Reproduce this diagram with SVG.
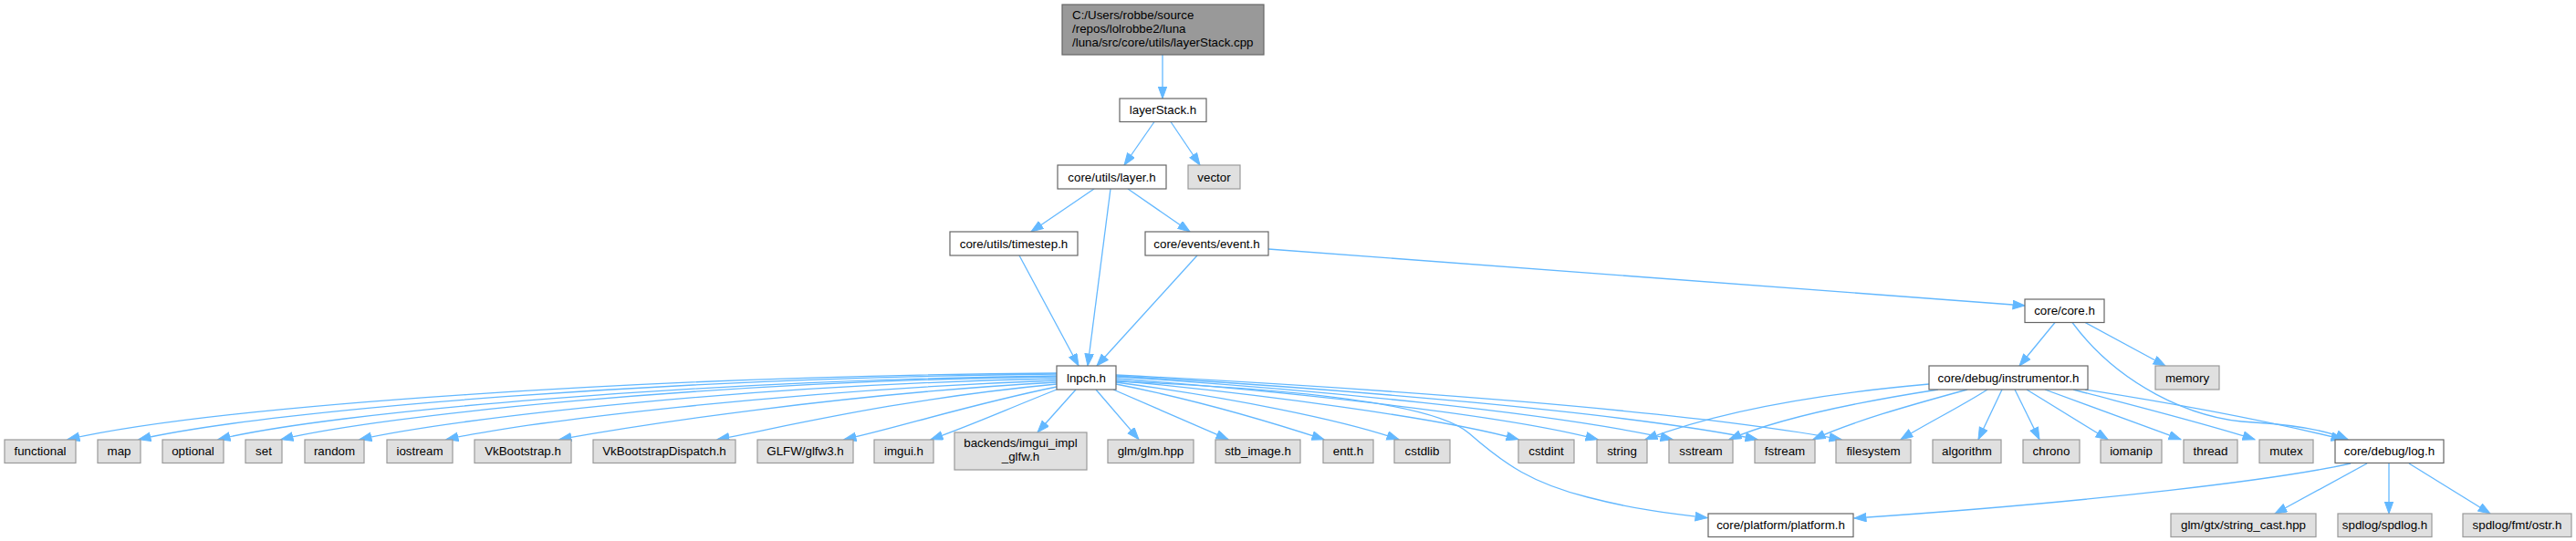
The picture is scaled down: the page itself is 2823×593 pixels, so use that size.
<svg xmlns="http://www.w3.org/2000/svg" width="2823" height="593" viewBox="0 0 2823 593">
<style>
.n rect{fill:#ffffff;stroke:#666666;stroke-width:1.2}
.g rect{fill:#e0e0e0;stroke:#999999;stroke-width:1.2}
.r rect{fill:#999999;stroke:#666666;stroke-width:1.2}
text{font-family:"Liberation Sans",Arial,sans-serif;font-size:13.33px;fill:#000000;text-anchor:middle}
.r text{text-anchor:start}
#edges path{fill:none;stroke:#63b8ff;stroke-width:1.3;marker-end:url(#a)}
</style>
<defs>
<marker id="a" markerUnits="userSpaceOnUse" markerWidth="15" markerHeight="11" refX="13.5" refY="5" orient="auto">
<path d="M0.5,0.3 L13.5,5 L0.5,9.7 z" fill="#63b8ff" stroke="#63b8ff" stroke-width="1"/>
</marker>
</defs>
<rect width="2823" height="593" fill="#ffffff"/>
<g id="edges">
<path d="M1274,60 L1274,108"/>
<path d="M1265,133.5 L1232,181"/>
<path d="M1283,133.5 L1315,181"/>
<path d="M1199,207 L1130,254"/>
<path d="M1217,207 L1192,401"/>
<path d="M1236,207 L1304,254"/>
<path d="M1117,280 L1182,401"/>
<path d="M1312,280 L1202,401"/>
<path d="M1390,273 L2219,335"/>
<path d="M2252,353.5 L2213,401"/>
<path d="M2285,353.5 L2373,401"/>
<path d="M2271,353.5 C2320,420 2400,460 2470,463 C2520,466 2550,472 2573,481.7"/>
<path d="M1158,409 C720,412 240,444 74,481.7"/>
<path d="M1158,410 C740,414 300,448 152,481.7"/>
<path d="M1158,412 C760,417 360,452 239,481.7"/>
<path d="M1158,413 C780,418 420,455 308,481.7"/>
<path d="M1158,415 C820,422 500,458 394,481.7"/>
<path d="M1158,417 C860,428 580,462 489,481.7"/>
<path d="M1158,419 C920,432 700,466 613,481.7"/>
<path d="M1158,421 C980,438 860,468 786,481.7"/>
<path d="M1158,424 C1060,444 980,470 925,481.7"/>
<path d="M1158,427 C1100,450 1060,468 1020,481.7"/>
<path d="M1179,427 L1137,474"/>
<path d="M1201,427 L1248,481.7"/>
<path d="M1220,427 L1346,481.7"/>
<path d="M1223,421 C1320,440 1400,465 1451,481.7"/>
<path d="M1223,419 C1350,436 1470,460 1533,481.7"/>
<path d="M1223,417 C1380,432 1580,458 1664,481.7"/>
<path d="M1223,415 C1420,430 1650,455 1751,481.7"/>
<path d="M1223,413 C1440,427 1700,452 1833,481.7"/>
<path d="M1223,412 C1470,426 1780,452 1926,481.7"/>
<path d="M1223,411 C1500,425 1850,450 2018,481.7"/>
<path d="M1223,418 C1400,425 1570,440 1610,475 C1650,510 1680,530 1740,545 C1790,558 1830,563 1871,567.7"/>
<path d="M2114,421 C1990,432 1880,452 1803,481.7"/>
<path d="M2124,427 C2040,440 1950,458 1895,481.7"/>
<path d="M2156,427 C2090,445 2030,462 1987,481.7"/>
<path d="M2178,427 C2150,445 2110,465 2083,481.7"/>
<path d="M2194,427 L2168,481.7"/>
<path d="M2208,427 L2235,481.7"/>
<path d="M2221,427 L2310,481.7"/>
<path d="M2241,427 L2390,481.7"/>
<path d="M2272,427 C2340,445 2420,465 2471,481.7"/>
<path d="M2285,427 C2400,445 2500,465 2568,481.7"/>
<path d="M2576,508 C2500,525 2300,550 2032,568"/>
<path d="M2594,508 L2493,563"/>
<path d="M2618,508 L2618,563"/>
<path d="M2640,508 L2729,563"/>
</g>
<g id="n_root" class="r"><rect x="1164" y="5" width="221" height="55"/><text x="1175" y="21">C:/Users/robbe/source</text><text x="1175" y="36">/repos/lolrobbe2/luna</text><text x="1175" y="51">/luna/src/core/utils/layerStack.cpp</text></g>
<g id="n_layerStack" class="n"><rect x="1227" y="108" width="95" height="25.5"/><text x="1274.5" y="125">layerStack.h</text></g>
<g id="n_layer" class="n"><rect x="1159" y="181" width="119" height="26"/><text x="1218.5" y="198.5">core/utils/layer.h</text></g>
<g id="n_vector" class="g"><rect x="1302" y="181" width="57" height="26"/><text x="1330.5" y="198.5">vector</text></g>
<g id="n_timestep" class="n"><rect x="1041" y="254" width="140" height="26"/><text x="1111" y="271.5">core/utils/timestep.h</text></g>
<g id="n_event" class="n"><rect x="1255" y="254" width="135" height="26"/><text x="1322.5" y="271.5">core/events/event.h</text></g>
<g id="n_core" class="n"><rect x="2219" y="328" width="87" height="25.5"/><text x="2262.5" y="345">core/core.h</text></g>
<g id="n_lnpch" class="n"><rect x="1158" y="401" width="65" height="26"/><text x="1190.5" y="418.5">lnpch.h</text></g>
<g id="n_instrumentor" class="n"><rect x="2114" y="401" width="174" height="26"/><text x="2201" y="418.5">core/debug/instrumentor.h</text></g>
<g id="n_memory" class="g"><rect x="2362" y="401" width="70" height="26"/><text x="2397" y="418.5">memory</text></g>
<g id="n_functional" class="g"><rect x="5" y="482" width="78" height="25.5"/><text x="44" y="499">functional</text></g>
<g id="n_map" class="g"><rect x="107" y="482" width="47" height="25.5"/><text x="130.5" y="499">map</text></g>
<g id="n_optional" class="g"><rect x="178" y="482" width="67" height="25.5"/><text x="211.5" y="499">optional</text></g>
<g id="n_set" class="g"><rect x="269" y="482" width="40" height="25.5"/><text x="289" y="499">set</text></g>
<g id="n_random" class="g"><rect x="334" y="482" width="65" height="25.5"/><text x="366.5" y="499">random</text></g>
<g id="n_iostream" class="g"><rect x="424" y="482" width="72" height="25.5"/><text x="460" y="499">iostream</text></g>
<g id="n_vkbootstrap" class="g"><rect x="520" y="482" width="106" height="25.5"/><text x="573" y="499">VkBootstrap.h</text></g>
<g id="n_vkdispatch" class="g"><rect x="650" y="482" width="156" height="25.5"/><text x="728" y="499">VkBootstrapDispatch.h</text></g>
<g id="n_glfw" class="g"><rect x="830" y="482" width="105" height="25.5"/><text x="882.5" y="499">GLFW/glfw3.h</text></g>
<g id="n_imgui" class="g"><rect x="958" y="482" width="65" height="25.5"/><text x="990.5" y="499">imgui.h</text></g>
<g id="n_backends" class="g"><rect x="1046" y="474" width="145" height="41"/><text x="1118.5" y="489.5">backends/imgui_impl</text><text x="1118.5" y="504.5">_glfw.h</text></g>
<g id="n_glm" class="g"><rect x="1214" y="482" width="94" height="25.5"/><text x="1261" y="499">glm/glm.hpp</text></g>
<g id="n_stb" class="g"><rect x="1332" y="482" width="93" height="25.5"/><text x="1378.5" y="499">stb_image.h</text></g>
<g id="n_entt" class="g"><rect x="1450" y="482" width="55" height="25.5"/><text x="1477.5" y="499">entt.h</text></g>
<g id="n_cstdlib" class="g"><rect x="1528" y="482" width="61" height="25.5"/><text x="1558.5" y="499">cstdlib</text></g>
<g id="n_cstdint" class="g"><rect x="1664" y="482" width="61" height="25.5"/><text x="1694.5" y="499">cstdint</text></g>
<g id="n_string" class="g"><rect x="1750" y="482" width="55" height="25.5"/><text x="1777.5" y="499">string</text></g>
<g id="n_sstream" class="g"><rect x="1829" y="482" width="70" height="25.5"/><text x="1864" y="499">sstream</text></g>
<g id="n_fstream" class="g"><rect x="1923" y="482" width="66" height="25.5"/><text x="1956" y="499">fstream</text></g>
<g id="n_filesystem" class="g"><rect x="2012" y="482" width="82" height="25.5"/><text x="2053" y="499">filesystem</text></g>
<g id="n_algorithm" class="g"><rect x="2118" y="482" width="75" height="25.5"/><text x="2155.5" y="499">algorithm</text></g>
<g id="n_chrono" class="g"><rect x="2217" y="482" width="62" height="25.5"/><text x="2248" y="499">chrono</text></g>
<g id="n_iomanip" class="g"><rect x="2302" y="482" width="67" height="25.5"/><text x="2335.5" y="499">iomanip</text></g>
<g id="n_thread" class="g"><rect x="2393" y="482" width="59" height="25.5"/><text x="2422.5" y="499">thread</text></g>
<g id="n_mutex" class="g"><rect x="2476" y="482" width="59" height="25.5"/><text x="2505.5" y="499">mutex</text></g>
<g id="n_log" class="n"><rect x="2559" y="482" width="119" height="25.5"/><text x="2618.5" y="499">core/debug/log.h</text></g>
<g id="n_platform" class="n"><rect x="1872" y="563" width="159" height="25.5"/><text x="1951.5" y="580">core/platform/platform.h</text></g>
<g id="n_stringcast" class="g"><rect x="2379" y="563" width="159" height="25.5"/><text x="2458.5" y="580">glm/gtx/string_cast.hpp</text></g>
<g id="n_spdlog" class="g"><rect x="2562" y="563" width="103" height="25.5"/><text x="2613.5" y="580">spdlog/spdlog.h</text></g>
<g id="n_ostr" class="g"><rect x="2699" y="563" width="119" height="25.5"/><text x="2758.5" y="580">spdlog/fmt/ostr.h</text></g>
</svg>
